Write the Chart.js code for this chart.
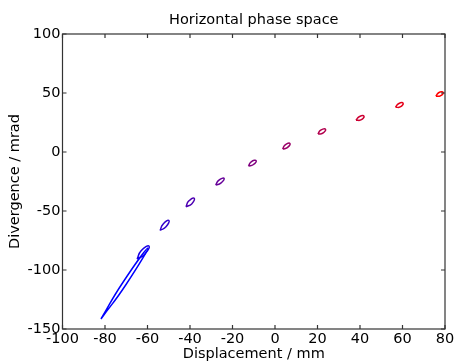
<!DOCTYPE html>
<html><head><meta charset="utf-8">
<script src="https://cdn.jsdelivr.net/npm/chart.js@4/dist/chart.umd.min.js"></script>
<style>html,body{margin:0;padding:0;background:#fff}</style>
</head><body>
<canvas id="c" width="454" height="361"></canvas>
<script>
// Each phase-space ellipse outline: two tips and two side points (mm, mrad)
const ellipseNames = ['E1','E2','E3','E4','E5','E6','E7','E8','E9','E10','E11'];
const tipAX  = [-81.9, -64.9, -54.1, -41.9, -27.9, -12.5,  3.6, 20.2, 38.1, 56.7, 75.7];
const tipAY  = [-141.5, -90.7, -66.5, -46.4, -28.0, -11.8,  2.5, 15.2, 26.9, 37.9, 47.2];
const sideAX = [-71.6, -63.0, -52.7, -40.6, -26.5, -11.2,  4.8, 21.5, 39.6, 58.1, 77.0];
const sideAY = [-110.6, -83.7, -61.2, -41.6, -24.0,  -8.3,  6.1, 18.5, 29.9, 40.9, 50.2];
const tipBX  = [-59.8, -59.3, -49.9, -38.0, -24.0,  -8.9,  7.0, 23.8, 41.9, 60.3, 79.1];
const tipBY  = [-81.4, -79.7, -58.1, -39.2, -22.3,  -7.3,  7.3, 19.2, 30.3, 41.3, 50.6];
const sideBX = [-70.1, -61.3, -51.3, -39.2, -25.5, -10.3,  5.8, 22.4, 40.4, 58.9, 77.8];
const sideBY = [-112.3, -86.6, -63.4, -44.0, -26.4, -10.8,  3.7, 15.9, 27.2, 38.2, 47.6];
const xTicks = [-100, -80, -60, -40, -20, 0, 20, 40, 60, 80];
const yTicks = [-150, -100, -50, 0, 50, 100];

const colors = ['#0000ff','#1a00e5','#3300cc','#4d00b2','#660099','#800080','#990066','#b2004d','#cc0033','#e5001a','#ff0000'];

const datasets = ellipseNames.map((n, i) => ({
  label: n,
  data: [
    {x: tipAX[i], y: tipAY[i]},
    {x: sideAX[i], y: sideAY[i]},
    {x: tipBX[i], y: tipBY[i]},
    {x: sideBX[i], y: sideBY[i]},
    {x: tipAX[i], y: tipAY[i]}
  ],
  showLine: true,
  borderColor: colors[i],
  borderWidth: 1.5,
  pointRadius: 0,
  tension: 0.55,
  fill: false
}));

const frame = {
  id: 'frame',
  afterDraw(chart) {
    const {ctx, chartArea: a, scales} = chart;
    ctx.save();
    ctx.strokeStyle = '#333';
    ctx.lineWidth = 1.2;
    ctx.strokeRect(a.left, a.top, a.right - a.left, a.bottom - a.top);
    ctx.beginPath();
    const L = 4;
    xTicks.forEach(v => {
      const p = scales.x.getPixelForValue(v);
      ctx.moveTo(p, a.bottom); ctx.lineTo(p, a.bottom - L);
      ctx.moveTo(p, a.top); ctx.lineTo(p, a.top + L);
    });
    yTicks.forEach(v => {
      const p = scales.y.getPixelForValue(v);
      ctx.moveTo(a.left, p); ctx.lineTo(a.left + L, p);
      ctx.moveTo(a.right, p); ctx.lineTo(a.right - L, p);
    });
    ctx.stroke();
    ctx.restore();
  }
};

const font = {family: "'DejaVu Sans', sans-serif", size: 14.5};
new Chart(document.getElementById('c'), {
  type: 'scatter',
  data: {datasets},
  options: {
    responsive: false,
    devicePixelRatio: 1,
    animation: false,
    layout: {padding: {top: 0, right: 9, bottom: 0, left: 0}},
    plugins: {
      legend: {display: false},
      tooltip: {enabled: false},
      title: {display: false}
    },
    scales: {
      x: {
        type: 'linear', min: -100, max: 80,
        grid: {display: false, drawTicks: false},
        border: {display: false},
        afterBuildTicks: s => { s.ticks = xTicks.map(v => ({value: v})); },
        afterFit: s => { s.height = 32; s.paddingLeft = 0; s.paddingRight = 0; },
        ticks: {autoSkip: false, maxRotation: 0, color: '#000', font, padding: 2},
        title: {display: true, text: 'Displacement / mm', color: '#000', font, padding: {top: 0, bottom: -2}}
      },
      xTop: {
        type: 'linear', position: 'top', min: -100, max: 80,
        grid: {display: false, drawTicks: false},
        border: {display: false},
        ticks: {display: false},
        afterFit: s => { s.height = 34; s.paddingLeft = 0; s.paddingRight = 0; },
        title: {display: true, text: 'Horizontal phase space', color: '#000', font, padding: {top: 12, bottom: 0}}
      },
      y: {
        type: 'linear', min: -150, max: 100,
        grid: {display: false, drawTicks: false},
        border: {display: false},
        afterBuildTicks: s => { s.ticks = yTicks.map(v => ({value: v})); },
        afterFit: s => { s.width = 62.5; s.paddingTop = 0; s.paddingBottom = 0; },
        ticks: {autoSkip: false, color: '#000', font, padding: 2},
        title: {display: true, text: 'Divergence / mrad', color: '#000', font, padding: {top: 7, bottom: 0}}
      }
    }
  },
  plugins: [frame]
});
</script>
</body></html>
